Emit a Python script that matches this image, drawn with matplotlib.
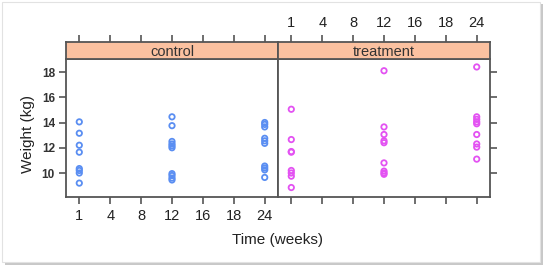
import matplotlib
matplotlib.use("Agg")
import matplotlib.pyplot as plt
from matplotlib.patches import Rectangle

plt.rcParams['font.family'] = ['Liberation Sans', 'DejaVu Sans']

# ---- data ----
time_levels = ["1", "4", "8", "12", "16", "18", "24"]
groups = ["control", "treatment"]

control_w1 = [14.05, 13.15, 12.2, 11.65, 10.35, 10.2, 10.0, 9.2]
control_w12 = [14.45, 13.75, 12.5, 12.3, 12.15, 12.0, 9.95, 9.8, 9.6, 9.45]
control_w24 = [14.0, 13.85, 13.65, 12.75, 12.55, 12.35, 10.55, 10.4, 10.25, 9.65]

treat_w1 = [15.05, 12.65, 11.7, 11.65, 10.2, 10.0, 9.75, 8.85]
treat_w12 = [18.1, 13.65, 13.05, 12.55, 12.4, 10.8, 10.15, 10.0, 9.9]
treat_w24 = [18.4, 14.45, 14.25, 14.05, 13.9, 13.05, 12.3, 12.05, 11.1]

y_ticks = [10, 12, 14, 16, 18]

data = {
    "control": {"1": control_w1, "12": control_w12, "24": control_w24},
    "treatment": {"1": treat_w1, "12": treat_w12, "24": treat_w24},
}
colors = {"control": "#5a8ef2", "treatment": "#e352f2"}

W, H = 548, 267
fig = plt.figure(figsize=(W / 100, H / 100), dpi=100)
fig.patch.set_facecolor("white")

def fr(x0, y0, x1, y1):
    return [x0 / W, 1 - y1 / H, (x1 - x0) / W, (y1 - y0) / H]

# screenshot-like frame with shadow
fig.patches.append(Rectangle((5 / W, 1 - 265 / H), 538 / W, 261 / H,
                             transform=fig.transFigure, facecolor="#c8c8c8",
                             edgecolor="none", zorder=-3))
fig.patches.append(Rectangle((2 / W, 1 - 262 / H), 538 / W, 260 / H,
                             transform=fig.transFigure, facecolor="white",
                             edgecolor="#e2e2e2", linewidth=0.8, zorder=-2))

frame_col = "#555555"
xpos = list(range(1, len(time_levels) + 1))
xlim = (0.57, 7.43)
ylim = (8.1, 19.03)

panels = [(66, 278), (278, 490)]
for i, (g, (x0, x1)) in enumerate(zip(groups, panels)):
    ax = fig.add_axes(fr(x0, 59, x1, 197))
    st = fig.add_axes(fr(x0, 42, x1, 59))
    for a in (ax, st):
        a.set_xlim(*xlim)
        for s in a.spines.values():
            s.set_color(frame_col)
            s.set_linewidth(1.3)
    ax.set_ylim(*ylim)
    st.set_ylim(0, 1)
    st.set_facecolor("#fbc1a0")
    st.text(0.5, 0.42, g, transform=st.transAxes, ha="center", va="center",
            fontsize=10.5, color="#333333")
    st.set_yticks([])

    for lvl, vals in data[g].items():
        xp = time_levels.index(lvl) + 1
        ax.scatter([xp] * len(vals), vals, s=15, facecolors="none",
                   edgecolors=colors[g], linewidths=1.3, zorder=3)

    # x ticks
    ax.set_xticks(xpos)
    st.set_xticks(xpos)
    ax.tick_params(axis="x", direction="out", length=5, width=1.2,
                   color=frame_col, top=False, bottom=True, pad=3.5,
                   labelsize=10.5, labelcolor="#222222")
    st.tick_params(axis="x", direction="out", length=5, width=1.2,
                   color=frame_col, top=True, bottom=False, labeltop=(i == 1),
                   labelbottom=False, pad=3.5, labelsize=10.5, labelcolor="#222222")
    st.set_xticklabels(time_levels)
    if i == 0:
        ax.set_xticklabels(time_levels)
    else:
        ax.set_xticklabels([])

    ax.set_yticks(y_ticks)
    if i == 0:
        ax.tick_params(axis="y", direction="out", length=5, width=1.2,
                       color=frame_col, left=True, right=False, pad=3,
                       labelsize=8.5, labelcolor="#333333")
        for t in ax.get_yticklabels():
            t.set_fontweight("bold")
    else:
        ax.tick_params(axis="y", direction="out", length=5, width=1.2,
                       color=frame_col, left=False, right=True,
                       labelleft=False, labelright=False)

fig.text(28 / W, 1 - 134 / H, "Weight (kg)", rotation=90, ha="center",
         va="center", fontsize=11, color="#222222")
fig.text(277 / W, 1 - 240 / H, "Time (weeks)", ha="center", va="center",
         fontsize=11, color="#222222")

fig.savefig("out.png", dpi=100)
